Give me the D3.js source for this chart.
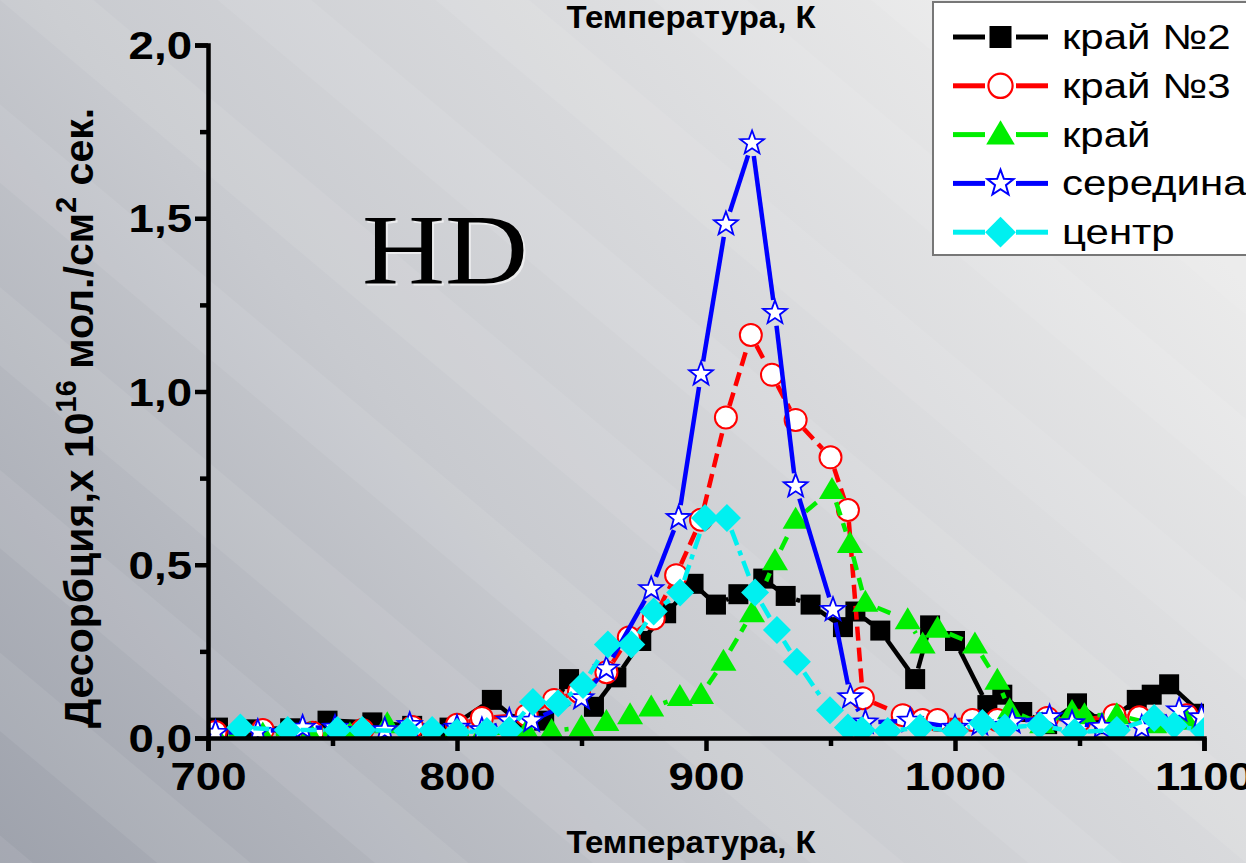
<!DOCTYPE html>
<html><head><meta charset="utf-8">
<script src="https://cdn.jsdelivr.net/npm/d3@7"></script>
<style>html,body{margin:0;padding:0;overflow:hidden;background:#ccc}</style>
</head><body>
<svg id="c" width="1246" height="863"></svg>
<script>
// ---- data (T in K, desorption x1e16 mol/cm2 s) ----
const seriesNames = ["край №2", "край №3", "край", "середина", "центр"];
const kraj2 = [[704,0.03],[718,0.025],[733,0.028],[748,0.05],[766,0.045],[782,0.035],[797,0.03],[814,0.11],[826,0.04],[835,0.05],[845,0.17],[855,0.09],[864,0.175],[874,0.28],[884,0.36],[895,0.445],[904,0.385],[913,0.415],[923,0.46],[932,0.41],[942,0.385],[955,0.32],[960,0.365],[970,0.31],[984,0.17],[990,0.325],[1000,0.28],[1013,0.095],[1019,0.125],[1027,0.075],[1037,0.04],[1049,0.1],[1060,0.04],[1073,0.11],[1079,0.125],[1086,0.155],[1099,0.07]];
const kraj3 = [[703,0.017],[722,0.023],[742,0.015],[762,0.023],[782,0.032],[800,0.038],[810,0.058],[828,0.066],[839,0.11],[849,0.133],[860,0.19],[869,0.29],[879,0.345],[888,0.47],[898,0.63],[908,0.925],[918,1.163],[926.5,1.048],[936,0.918],[950,0.81],[957,0.658],[963,0.115],[979,0.066],[987,0.052],[993,0.052],[1007,0.052],[1017,0.052],[1037,0.058],[1050,0.05],[1064,0.066],[1074,0.06],[1093,0.066]];
const kraj = [[703,0.01],[722,0.01],[741,0.012],[757,0.01],[772,0.04],[790,0.01],[810,0.012],[828,0.02],[838,0.02],[850,0.03],[860,0.046],[869.5,0.066],[878,0.088],[889.5,0.118],[898,0.124],[907,0.22],[918.5,0.36],[927.7,0.51],[936,0.63],[950.6,0.716],[957.8,0.56],[964,0.39],[981,0.34],[987,0.27],[993,0.315],[1008,0.27],[1017,0.165],[1022,0.08],[1035,0.04],[1047,0.075],[1052,0.066],[1065,0.066],[1080,0.04],[1093,0.05]];
const seredina = [[703,0.015],[720,0.018],[738,0.03],[751,0.03],[771,0.023],[781,0.038],[800,0.03],[810,0.023],[821,0.05],[830,0.05],[850,0.115],[860,0.2],[878,0.43],[889,0.635],[898,1.05],[908,1.483],[918.5,1.717],[927.7,1.227],[936,0.727],[951,0.37],[958,0.118],[964,0.045],[982,0.05],[1000,0.03],[1010,0.04],[1023,0.046],[1038,0.06],[1047,0.043],[1059,0.032],[1075,0.03],[1090,0.08],[1099,0.06]];
const centr = [[713,0.03],[732,0.023],[752,0.023],[762,0.023],[780,0.02],[790,0.023],[800,0.017],[812,0.02],[821,0.023],[830.5,0.104],[840.6,0.1],[850.6,0.153],[860.6,0.27],[870,0.27],[879,0.365],[889.6,0.42],[899.6,0.635],[908.4,0.635],[919.7,0.42],[928.5,0.312],[936.5,0.22],[949.8,0.08],[957,0.03],[962.6,0.023],[973,0.02],[986,0.03],[1000,0.02],[1011,0.043],[1020,0.03],[1034,0.037],[1048,0.017],[1065,0.023],[1080,0.058],[1088,0.037],[1100,0.02]];
const xTicks = [700, 800, 900, 1000, 1100];
const xMinor = [750, 850, 950, 1050];
const yTicks = [0, 0.5, 1.0, 1.5, 2.0];
const yMinor = [0.25, 0.75, 1.25, 1.75];
const xTitle = "Температура, К";

const svg = d3.select("#c");
const W = 1246, H = 863;
const SX = 1.2; // horizontal stretch of text in reference

// background
const defs = svg.append("defs");
const lg = defs.append("linearGradient").attr("id","bg").attr("gradientUnits","userSpaceOnUse")
  .attr("x1",0).attr("y1",863).attr("x2",1000).attr("y2",0);
lg.append("stop").attr("offset",0).attr("stop-color","#9ea2ac");
lg.append("stop").attr("offset",0.45).attr("stop-color","#c8cacf");
lg.append("stop").attr("offset",1).attr("stop-color","#ebebeb");
const pat = defs.append("pattern").attr("id","stripes").attr("patternUnits","userSpaceOnUse")
  .attr("width",140).attr("height",10).attr("patternTransform","rotate(-50)");
pat.append("rect").attr("x",0).attr("y",0).attr("width",60).attr("height",10).attr("fill","#ffffff").attr("opacity",0.07);
svg.append("rect").attr("width",W).attr("height",H).attr("fill","url(#bg)");
svg.append("rect").attr("width",W).attr("height",H).attr("fill","url(#stripes)");

const x = d3.scaleLinear().domain([700,1100]).range([208,1204]);
const y = d3.scaleLinear().domain([0,2]).range([738,45]);

defs.append("clipPath").attr("id","plot").append("rect")
  .attr("x",x(700)).attr("y",0).attr("width",x(1100)-x(700)).attr("height",y(0));

// HD label
svg.append("text").attr("x",0).attr("y",0)
  .attr("transform",`translate(${445+2},${283+2}) scale(1.15,1)`)
  .attr("text-anchor","middle").attr("font-family","Liberation Serif, Times New Roman, serif")
  .attr("font-size",100).attr("fill","#ffffff").attr("opacity",0.6).text("HD");
svg.append("text").attr("x",0).attr("y",0)
  .attr("transform",`translate(445,283) scale(1.15,1)`)
  .attr("text-anchor","middle").attr("font-family","Liberation Serif, Times New Roman, serif")
  .attr("font-size",100).attr("fill","#000").text("HD");

// marker shapes
function marker(g, type){
  if(type==="square") return g.append("rect").attr("x",-10).attr("y",-10).attr("width",20).attr("height",20).attr("fill","#000");
  if(type==="circle") return g.append("circle").attr("r",11).attr("fill","#fff").attr("stroke","#ff0000").attr("stroke-width",2);
  if(type==="triangle") return g.append("path").attr("d","M0,-13 L13,9 L-13,9 Z").attr("fill","#00ee00");
  if(type==="star"){
    const pts=[]; for(let i=0;i<10;i++){const r=i%2?5.2:12.5; const a=-Math.PI/2+i*Math.PI/5; pts.push([r*Math.cos(a),r*Math.sin(a)]);}
    return g.append("path").attr("d","M"+pts.map(p=>p.join(",")).join("L")+"Z").attr("fill","#fff").attr("stroke","#0000ff").attr("stroke-width",1.8);
  }
  if(type==="diamond") return g.append("path").attr("d","M0,-14 L14,0 L0,14 L-14,0 Z").attr("fill","#00f0f0");
}

const series = [
  {name:seriesNames[0], data:kraj2, color:"#000000", dash:null, type:"square", gap:11, w:4.5},
  {name:seriesNames[1], data:kraj3, color:"#ff0000", dash:"14,7", type:"circle", gap:12, w:4.5},
  {name:seriesNames[2], data:kraj, color:"#00ee00", dash:"14,8", type:"triangle", gap:13, w:4.5},
  {name:seriesNames[3], data:seredina, color:"#0000ff", dash:null, type:"star", gap:13, w:4.5},
  {name:seriesNames[4], data:centr, color:"#00f0f0", dash:"16,6,5,6", type:"diamond", gap:13, w:4.5}
];

const plot = svg.append("g").attr("clip-path","url(#plot)");
series.forEach(s=>{
  const g = plot.append("g");
  for(let i=0;i<s.data.length-1;i++){
    const x1=x(s.data[i][0]), y1=y(s.data[i][1]), x2=x(s.data[i+1][0]), y2=y(s.data[i+1][1]);
    const L=Math.hypot(x2-x1,y2-y1); if(L<=2*s.gap) continue;
    const ux=(x2-x1)/L, uy=(y2-y1)/L;
    g.append("line").attr("x1",x1+ux*s.gap).attr("y1",y1+uy*s.gap).attr("x2",x2-ux*s.gap).attr("y2",y2-uy*s.gap)
      .attr("stroke",s.color).attr("stroke-width",s.w).attr("stroke-dasharray",s.dash);
  }
  s.data.forEach(d=>{
    const m = g.append("g").attr("transform",`translate(${x(d[0])},${y(d[1])})`);
    marker(m, s.type);
  });
});

// axes
const font = "Liberation Sans, Arial, sans-serif";
const xAxis = svg.append("g").attr("transform",`translate(0,${y(0)})`)
  .call(d3.axisBottom(x).tickValues(xTicks).tickSize(13).tickPadding(12).tickFormat(d3.format("d")));
svg.append("g").attr("transform",`translate(0,${y(0)})`)
  .call(d3.axisBottom(x).tickValues(xMinor).tickSize(8).tickFormat(""))
  .call(g=>g.select(".domain").remove());
const yAxis = svg.append("g").attr("transform",`translate(${x(700)},0)`)
  .call(d3.axisLeft(y).tickValues(yTicks).tickSize(13).tickPadding(6).tickFormat(d=>d3.format(".1f")(d).replace(".",",")));
svg.append("g").attr("transform",`translate(${x(700)},0)`)
  .call(d3.axisLeft(y).tickValues(yMinor).tickSize(8).tickFormat(""))
  .call(g=>g.select(".domain").remove());
svg.selectAll(".domain").attr("stroke","#000").attr("stroke-width",4.5);
svg.selectAll(".tick line").attr("stroke","#000").attr("stroke-width",4.5);
xAxis.selectAll(".tick text").attr("font-family",font).attr("font-weight","bold").attr("font-size",38)
  .attr("fill","#000").attr("transform",`scale(${SX},1)`);
yAxis.selectAll(".tick text").attr("font-family",font).attr("font-weight","bold").attr("font-size",38)
  .attr("fill","#000").attr("x",-16/SX).attr("dy","0.36em").attr("transform",`scale(${SX},1)`);

// axis titles
function titleText(cx, cy, txt){
  return svg.append("text").attr("transform",`translate(${cx},${cy}) scale(1.03,1)`)
    .attr("text-anchor","middle").attr("font-family",font).attr("font-weight","bold")
    .attr("font-size",32).attr("fill","#000").text(txt);
}
titleText(691, 853, xTitle);
titleText(691, 28, xTitle);

const yt = svg.append("text").attr("transform","translate(93,418) rotate(-90)")
  .attr("text-anchor","middle").attr("font-family",font).attr("font-weight","bold")
  .attr("font-size",41).attr("fill","#000");
yt.append("tspan").text("Десорбция,x 10");
yt.append("tspan").attr("font-size",29).attr("dy",-17).text("16");
yt.append("tspan").attr("dy",17).text(" мол./см");
yt.append("tspan").attr("font-size",29).attr("dy",-17).text("2");
yt.append("tspan").attr("dy",17).text(" сек.");

// legend
const leg = svg.append("g");
leg.append("rect").attr("x",933).attr("y",2).attr("width",330).attr("height",253)
  .attr("fill","#fff").attr("stroke","#777").attr("stroke-width",2);
series.forEach((s,i)=>{
  const cy = 37 + i*48.8;
  const g = leg.append("g");
  g.append("line").attr("x1",953).attr("x2",985).attr("y1",cy).attr("y2",cy).attr("stroke",s.color).attr("stroke-width",5);
  g.append("line").attr("x1",1016).attr("x2",1048).attr("y1",cy).attr("y2",cy).attr("stroke",s.color).attr("stroke-width",5);
  const m = g.append("g").attr("transform",`translate(1000.5,${cy}) scale(1.1)`);
  marker(m, s.type);
  g.append("text").attr("transform",`translate(1062,${cy+12}) scale(${SX},1)`).attr("font-family",font)
    .attr("font-size",35).attr("fill","#000").text(s.name);
});
</script>
</body></html>
